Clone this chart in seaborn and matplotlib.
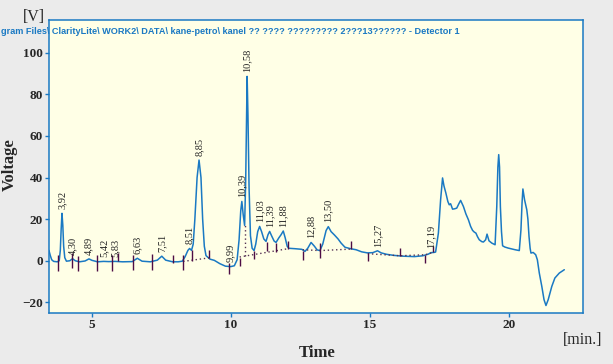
import matplotlib
matplotlib.use("Agg")
import matplotlib.pyplot as plt
import numpy as np
import pandas as pd
import seaborn as sns

# chromatogram trace (time in min, signal in V)
time = [3.45, 3.50, 3.55, 3.62, 3.75, 3.82, 3.86, 3.89, 3.92, 3.95, 3.98, 4.02, 4.08,
        4.20, 4.30, 4.40, 4.55, 4.75, 4.89, 5.00, 5.20, 5.42, 5.60, 5.83, 6.10, 6.45,
        6.63, 6.80, 7.10, 7.35, 7.51, 7.65, 7.90, 8.10, 8.25, 8.35, 8.45, 8.51, 8.58,
        8.64, 8.70, 8.78, 8.85, 8.92, 8.98, 9.04, 9.10, 9.24, 9.40, 9.60, 9.80, 9.99,
        10.12, 10.22, 10.29, 10.35, 10.39, 10.44, 10.49, 10.53, 10.56, 10.58, 10.61,
        10.65, 10.70, 10.76, 10.83, 10.89, 10.96, 11.03, 11.10, 11.18, 11.26, 11.33,
        11.39, 11.46, 11.55, 11.62, 11.72, 11.80, 11.88, 11.95, 12.02, 12.08, 12.30,
        12.55, 12.66, 12.76, 12.88, 13.00, 13.10, 13.20, 13.30, 13.42, 13.50, 13.60,
        13.72, 13.85, 13.96, 14.10, 14.30, 14.50, 14.70, 14.90, 15.10, 15.27, 15.40,
        15.60, 15.85, 16.20, 16.60, 16.90, 17.10, 17.19, 17.30, 17.36, 17.46, 17.54,
        17.61, 17.66, 17.73, 17.80, 17.85, 17.90, 17.97, 18.05, 18.12, 18.20, 18.26,
        18.36, 18.45, 18.54, 18.62, 18.69, 18.75, 18.81, 18.87, 18.93, 19.02, 19.08,
        19.16, 19.21, 19.28, 19.38, 19.50, 19.56, 19.60, 19.63, 19.66, 19.69, 19.73,
        19.77, 19.85, 19.97, 20.22, 20.37, 20.43, 20.47, 20.50, 20.56, 20.64, 20.68,
        20.72, 20.76, 20.79, 20.87, 20.96, 21.02, 21.09, 21.18, 21.26, 21.33, 21.41,
        21.54, 21.65, 21.81, 21.99]
volt = [5.0, 2.5, 0.5, -0.3, -0.5, 0.0, 5.0, 15.0, 22.8, 17.0, 7.0, 1.5, -0.2,
        0.0, 1.0, 0.0, -0.5, -0.1, 0.9, 0.2, -0.5, -0.3, -0.4, -0.3, -0.5, -0.4,
        1.2, -0.2, -0.5, 0.3, 2.2, 0.3, -0.5, -0.5, -0.2, 2.0, 5.0, 5.9, 5.0,
        8.0, 20.0, 40.0, 48.4, 40.0, 20.0, 7.0, 2.5, 0.8, 0.2, -1.4, -2.6, -2.8,
        -2.4, 0.5, 10.0, 24.0, 28.5, 22.0, 17.0, 40.0, 70.0, 88.6, 70.0,
        35.0, 12.0, 6.0, 4.9, 8.0, 14.0, 16.5, 14.0, 10.5, 9.3, 12.5,
        14.1, 12.0, 9.5, 8.8, 11.0, 12.5, 14.3, 11.0, 7.0, 6.0, 5.8,
        5.5, 4.5, 6.0, 8.8, 7.0, 5.2, 4.9, 8.0, 14.5, 16.4, 14.0,
        12.4, 10.5, 8.5, 6.5, 5.8, 5.3, 4.3, 3.8, 3.9, 4.8, 3.8,
        3.1, 2.6, 2.2, 2.0, 2.4, 3.2, 3.9, 4.0, 4.2, 13.3, 29.3,
        39.8, 36.0, 32.5, 28.5, 26.9, 27.4, 24.8, 25.0, 25.3, 27.5, 29.0,
        26.1, 22.5, 19.7, 16.5, 14.6, 13.8, 13.3, 11.5, 10.1, 9.2, 9.0,
        10.1, 12.8, 9.6, 8.5, 7.7, 26.1, 45.0, 51.0, 45.0, 26.0, 14.0,
        7.2, 6.6, 6.1, 5.3, 4.9, 14.9, 28.0, 34.5, 29.3, 24.5, 20.0,
        11.7, 6.0, 3.7, 4.0, 2.9, 0.5, -5.9, -12.3, -18.7, -21.5, -18.7,
        -12.3, -8.3, -5.9, -4.3]

# integrated peaks
peak_times = [3.92, 4.30, 4.89, 5.42, 5.83, 6.63, 7.51, 8.51, 8.85, 9.99, 10.39,
              10.58, 11.03, 11.39, 11.88, 12.88, 13.50, 15.27, 17.19]
peak_labels = ["3,92", "4,30", "4,89", "5,42", "5,83", "6,63", "7,51", "8,51",
               "8,85", "9,99", "10,39", "10,58", "11,03", "11,39", "11,88",
               "12,88", "13,50", "15,27", "17,19"]

# peak start / end markers
bound_times = [3.79, 4.27, 4.51, 5.17, 5.71, 5.95, 6.49, 7.15, 7.93, 8.28, 8.60,
               9.22, 9.91, 10.31, 10.84, 11.30, 11.63, 12.05, 12.58, 13.21, 14.31,
               14.92, 16.09, 16.99, 17.27]
bound_hi = [2.9, 3.7, 2.1, 2.9, 2.9, 3.7, 2.9, 3.4, 2.9, 2.9, 5.3,
            5.3, -1.1, 1.3, 4.5, 8.8, 8.5, 9.7, 4.5, 8.5, 9.7,
            3.7, 6.1, 2.9, 6.9]
bound_lo = [-5.1, -3.5, -5.1, -4.7, -4.7, -0.3, -4.3, -4.3, -1.1, -4.3, -0.3,
            1.3, -6.2, -2.7, 0.8, 4.5, 4.0, 5.6, 0.5, 1.3, 5.8,
            -0.3, 2.1, -1.1, 4.0]

# dotted baselines under integrated groups
base_t = [[8.28, 9.22], [10.31, 12.05], [12.58, 13.21, 14.31],
          [14.92, 16.09, 16.99, 17.27]]
base_v = [[-0.3, 1.4], [1.8, 5.8], [5.3, 4.9, 5.6],
          [3.4, 2.4, 2.9, 4.0]]
drop_times = [10.49]
drop_top = [17.0]
drop_bottom = [2.1]

title = ("gram Files\\ ClarityLite\\ WORK2\\ DATA\\ kane-petro\\ kanel ?? ???? "
         "????????? 2???13?????? - Detector 1")

BLUE = "#1a79c3"
TICK = "#4d0d45"
SERIF = ["Liberation Serif", "DejaVu Serif"]

sns.set_style("ticks")
plt.rcParams["font.family"] = SERIF

W, H = 613, 364
fig = plt.figure(figsize=(W / 100, H / 100), dpi=100, facecolor="#ebebeb")
ax = fig.add_axes([49 / W, 1 - 313 / H, 534 / W, 293 / H])
ax.set_facecolor("#ffffe6")

df = pd.DataFrame({"Time": time, "Voltage": volt})
sns.lineplot(data=df, x="Time", y="Voltage", sort=False, estimator=None,
             color=BLUE, lw=1.1, ax=ax)

for ts, vs in zip(base_t, base_v):
    ax.plot(ts, vs, ls=(0, (1, 2)), color="#553355", lw=1.0)
ax.vlines(drop_times, drop_bottom, drop_top, colors="#553355",
          linestyles=(0, (1, 2)), lw=1.0)
ax.vlines(bound_times, bound_lo, bound_hi, colors=TICK, lw=1.0)

for t, lbl in zip(peak_times, peak_labels):
    v = np.interp(t, time, volt)
    ax.annotate(lbl, (t, v), xytext=(0, 3), textcoords="offset points",
                rotation=90, ha="center", va="bottom", fontsize=7.5,
                color="#222222", family=SERIF)

ax.set_xlim(3.453, 22.662)
ax.set_ylim(-25.1, 115.7)
ax.set_xticks([5, 10, 15, 20])
ax.set_yticks(range(-20, 101, 20))
ax.set_xlabel("")
ax.set_ylabel("")
for s in ax.spines.values():
    s.set_visible(True)
    s.set_color(BLUE)
    s.set_linewidth(1.1)
ax.tick_params(direction="out", length=3, width=1, color=BLUE,
               labelsize=9.5, pad=1.5)
for lab in ax.get_xticklabels() + ax.get_yticklabels():
    lab.set_fontweight("bold")
    lab.set_family(SERIF)

fig.text(1 / W, 1 - 32 / H, title, ha="left", va="center", color=BLUE,
         fontsize=6.6, fontweight="bold", family=["Liberation Sans", "DejaVu Sans"])
fig.text(34 / W, 1 - 17 / H, "[V]", ha="center", va="center", fontsize=11.5)
fig.text(10 / W, 1 - 165 / H, "Voltage", ha="center", va="center",
         rotation=90, fontsize=12, fontweight="bold")
fig.text(317 / W, 1 - 353 / H, "Time", ha="center", va="center",
         fontsize=12, fontweight="bold")
fig.text(583 / W, 1 - 340 / H, "[min.]", ha="center", va="center", fontsize=11.5)

fig.savefig("out.png", dpi=100, facecolor=fig.get_facecolor())
